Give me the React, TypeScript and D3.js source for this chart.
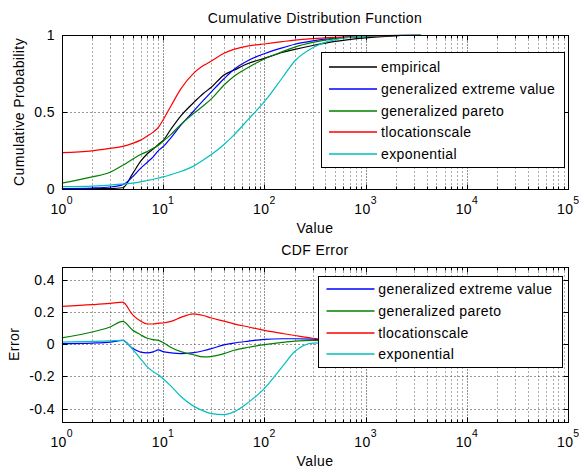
import React from 'react';
import * as d3 from 'd3';

// sample points (Value axis, log scale)
const xValues = [1, 2, 3, 4, 5, 6, 7, 8, 9, 10, 12, 15, 20, 25, 30, 40, 50, 70, 100, 150, 200, 300, 500, 1000, 2000, 3500];

// cumulative probability
const cdfEmpirical = [0.003, 0.004, 0.005, 0.01, 0.10, 0.18, 0.23, 0.26, 0.29, 0.315, 0.39, 0.475, 0.56, 0.62, 0.66, 0.74, 0.77, 0.815, 0.847, 0.885, 0.905, 0.93, 0.957, 0.98, 0.993, 1.0];
const cdfGev = [0.004, 0.008, 0.015, 0.03, 0.08, 0.135, 0.175, 0.21, 0.25, 0.275, 0.335, 0.415, 0.505, 0.575, 0.63, 0.715, 0.775, 0.835, 0.877, 0.915, 0.938, 0.96, 0.978, 0.99, 0.996, 1.0];
const cdfGp = [0.04, 0.08, 0.11, 0.155, 0.195, 0.225, 0.245, 0.265, 0.285, 0.31, 0.355, 0.42, 0.49, 0.54, 0.585, 0.675, 0.73, 0.79, 0.843, 0.89, 0.92, 0.95, 0.975, 0.988, 0.995, 1.0];
const cdfTls = [0.237, 0.249, 0.265, 0.278, 0.297, 0.318, 0.345, 0.37, 0.40, 0.448, 0.54, 0.65, 0.75, 0.80, 0.83, 0.88, 0.905, 0.928, 0.94, 0.955, 0.965, 0.975, 0.983, 0.99, 0.995, 0.998];
const cdfExp = [0.017, 0.021, 0.027, 0.034, 0.04, 0.048, 0.057, 0.065, 0.073, 0.08, 0.095, 0.115, 0.15, 0.19, 0.225, 0.29, 0.35, 0.455, 0.567, 0.72, 0.83, 0.915, 0.968, 0.99, 0.998, 1.0];

// CDF error
const errGev = [0.004, 0.008, 0.014, 0.025, -0.025, -0.048, -0.053, -0.047, -0.035, -0.045, -0.053, -0.058, -0.052, -0.04, -0.027, -0.003, 0.008, 0.02, 0.031, 0.035, 0.035, 0.032, 0.022, 0.01, 0.003, 0];
const errGp = [0.04, 0.077, 0.108, 0.143, 0.09, 0.06, 0.038, 0.03, 0.025, 0.012, -0.02, -0.045, -0.065, -0.078, -0.076, -0.058, -0.037, -0.018, -0.002, 0.012, 0.02, 0.025, 0.02, 0.01, 0.003, 0];
const errTls = [0.237, 0.247, 0.255, 0.263, 0.185, 0.145, 0.127, 0.127, 0.132, 0.133, 0.143, 0.168, 0.19, 0.18, 0.164, 0.145, 0.128, 0.108, 0.087, 0.068, 0.055, 0.038, 0.025, 0.008, 0.003, 0];
const errExp = [0.014, 0.018, 0.022, 0.025, -0.03, -0.09, -0.14, -0.17, -0.19, -0.214, -0.26, -0.325, -0.385, -0.415, -0.432, -0.438, -0.421, -0.36, -0.276, -0.14, -0.045, 0.008, 0.01, 0.005, 0.002, 0];

const names = ['empirical', 'generalized extreme value', 'generalized pareto', 'tlocationscale', 'exponential'];
const colors = ['#000000', '#0000ff', '#008000', '#ff0000', '#00bfbf'];

const cdfTicks = [0, 0.5, 1];
const cdfTickLabels = ['0', '0.5', '1'];
const errTicks = [-0.4, -0.2, 0, 0.2, 0.4];
const errTickLabels = ['-0.4', '-0.2', '0', '0.2', '0.4'];
const decades = [0, 1, 2, 3, 4, 5];

const FONT = '"Liberation Sans", Arial, Helvetica, sans-serif';
const LEFT = 61.7, RIGHT = 568.3;

const x = d3.scaleLog().domain([1, 1e5]).range([LEFT, RIGHT]);
const minor: number[] = [];
for (let d = 0; d < 5; d++) for (let k = 2; k <= 9; k++) minor.push(k * Math.pow(10, d));

const px = (v: number) => Math.round(v) + 0.5;

type S = { name: string; color: string; values: number[] };

function Panel(props: {
  id: string; top: number; bottom: number; domain: [number, number];
  ticks: number[]; tickLabels: string[]; title: string; ylabel: string; ylabelX: number;
  series: S[]; legend: { x: number; y: number; w: number; h: number; lineX0: number; lineX1: number; textX: number; rowY: number; rowH: number };
}) {
  const { top, bottom, domain, ticks, tickLabels, series, legend: lg } = props;
  const y = d3.scaleLinear().domain(domain).range([bottom, top]);
  const line = d3.line<number>()
    .x((_, i) => x(xValues[i]))
    .y(d => y(d))
    .curve(d3.curveMonotoneX);
  const L = px(LEFT), R = px(RIGHT), T = px(top), B = px(bottom);
  const grid = { stroke: '#555', strokeWidth: 1, strokeDasharray: '1,3' };
  const cx = (LEFT + RIGHT) / 2;
  return (
    <g fontFamily={FONT} letterSpacing="0.4">
      {minor.map(m => (
        <line key={'m' + m} x1={px(x(m))} x2={px(x(m))} y1={T} y2={B} {...grid} />
      ))}
      {decades.slice(1, -1).map(d => (
        <line key={'d' + d} x1={px(x(Math.pow(10, d)))} x2={px(x(Math.pow(10, d)))} y1={T} y2={B} {...grid} stroke="#222" strokeDasharray="1,2" />
      ))}
      {ticks.filter(t => y(t) > top + 1 && y(t) < bottom - 1).map(t => (
        <line key={'h' + t} x1={L} x2={R} y1={px(y(t))} y2={px(y(t))} {...grid} stroke="#333" />
      ))}
      <clipPath id={props.id}>
        <rect x={LEFT} y={top} width={RIGHT - LEFT} height={bottom - top} />
      </clipPath>
      <g clipPath={`url(#${props.id})`}>
        {series.map(s => (
          <path key={s.name} d={line(s.values) || ''} fill="none" stroke={s.color} strokeWidth={1.2} />
        ))}
      </g>
      <rect x={L} y={T} width={R - L} height={B - T} fill="none" stroke="#000" strokeWidth={1} />
      {decades.map(d => {
        const xx = px(x(Math.pow(10, d)));
        return (
          <g key={'t' + d}>
            <line x1={xx} x2={xx} y1={B} y2={B - 5} stroke="#000" />
            <line x1={xx} x2={xx} y1={T} y2={T + 5} stroke="#000" />
          </g>
        );
      })}
      {minor.map(m => {
        const xx = px(x(m));
        return (
          <g key={'mt' + m}>
            <line x1={xx} x2={xx} y1={B} y2={B - 3} stroke="#000" />
            <line x1={xx} x2={xx} y1={T} y2={T + 3} stroke="#000" />
          </g>
        );
      })}
      {ticks.map(t => (
        <g key={'yt' + t}>
          <line x1={L} x2={L + 5} y1={px(y(t))} y2={px(y(t))} stroke="#000" />
          <line x1={R} x2={R - 5} y1={px(y(t))} y2={px(y(t))} stroke="#000" />
        </g>
      ))}
      {ticks.map((t, i) => (
        <text key={'yl' + t} x={55} y={y(t) + 5} textAnchor="end" fontSize={14} fill="#000">{tickLabels[i]}</text>
      ))}
      {decades.map(d => (
        <text key={'xl' + d} x={x(Math.pow(10, d))} y={bottom + 25} textAnchor="middle" fontSize={14} fill="#000">
          10<tspan dy={-10} fontSize={10.5}>{d}</tspan>
        </text>
      ))}
      <text x={cx} y={top - 12} textAnchor="middle" fontSize={14}>{props.title}</text>
      <text x={cx} y={bottom + 44} textAnchor="middle" fontSize={14}>Value</text>
      <text transform={`translate(${props.ylabelX},${(top + bottom) / 2}) rotate(-90)`} textAnchor="middle" fontSize={14}>{props.ylabel}</text>
      <rect x={px(lg.x)} y={px(lg.y)} width={Math.round(lg.w)} height={Math.round(lg.h)} fill="#fff" stroke="#000" />
      {series.map((s, i) => {
        const ry = lg.rowY + i * lg.rowH;
        return (
          <g key={'lg' + s.name}>
            <line x1={lg.lineX0} x2={lg.lineX1} y1={Math.round(ry)} y2={Math.round(ry)} stroke={s.color} strokeWidth={1.5} />
            <text x={lg.textX} y={ry + 5} fontSize={14}>{s.name}</text>
          </g>
        );
      })}
    </g>
  );
}

export default function App() {
  const cdfSeries = [cdfEmpirical, cdfGev, cdfGp, cdfTls, cdfExp].map((v, i) => ({ name: names[i], color: colors[i], values: v }));
  const errSeries = [errGev, errGp, errTls, errExp].map((v, i) => ({ name: names[i + 1], color: colors[i + 1], values: v }));
  return (
    <svg width={579} height={470} style={{ position: 'absolute', left: 0, top: 0, background: '#fff' }}>
      <rect width={579} height={470} fill="#fff" />
      <Panel
        id="clipTop" top={34.7} bottom={189.3} domain={[0, 1]}
        ticks={cdfTicks} tickLabels={cdfTickLabels}
        title="Cumulative Distribution Function" ylabel="Cumulative Probability" ylabelX={24}
        series={cdfSeries}
        legend={{ x: 320.5, y: 52, w: 242.5, h: 115, lineX0: 329, lineX1: 377, textX: 381, rowY: 66.7, rowH: 21.9 }}
      />
      <Panel
        id="clipBottom" top={266.7} bottom={422} domain={[-0.484, 0.484]}
        ticks={errTicks} tickLabels={errTickLabels}
        title="CDF Error" ylabel="Error" ylabelX={18.5}
        series={errSeries}
        legend={{ x: 317.5, y: 276, w: 243.5, h: 91, lineX0: 326.5, lineX1: 374.5, textX: 378.3, rowY: 289, rowH: 21.8 }}
      />
    </svg>
  );
}
